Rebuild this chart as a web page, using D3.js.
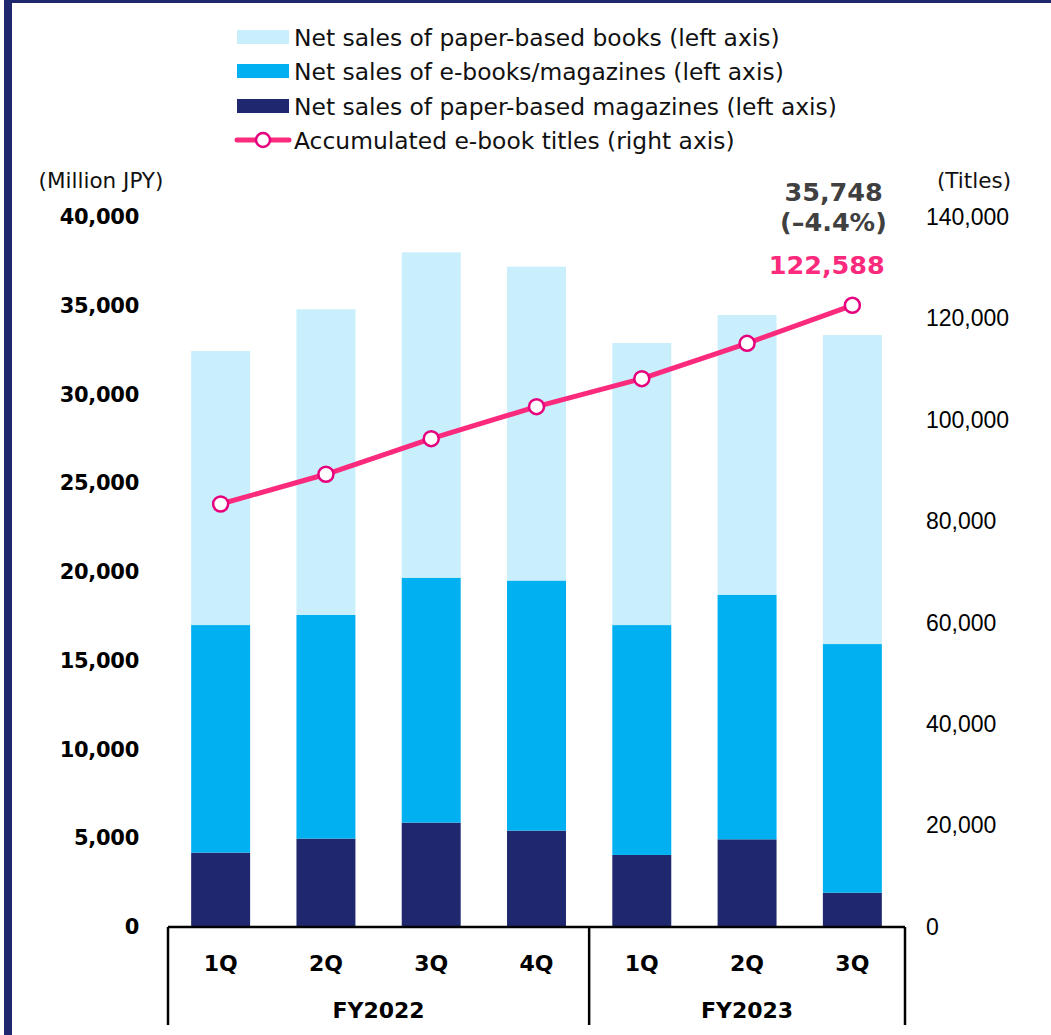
<!DOCTYPE html>
<html>
<head>
<meta charset="utf-8">
<script src="https://cdn.jsdelivr.net/npm/d3@7"></script>
<style>
  html, body { margin: 0; padding: 0; background: #fff; }
  svg { display: block; }
</style>
</head>
<body>
<div id="chart"></div>
<script>
// Quarterly publishing net sales (stacked, left axis) and accumulated e-book titles (line, right axis)
const quarters = ["1Q", "2Q", "3Q", "4Q", "1Q", "2Q", "3Q"];
const fiscalYears = ["FY2022", "FY2022", "FY2022", "FY2022", "FY2023", "FY2023", "FY2023"];
const paperMagazines = [4190, 4980, 5880, 5430, 4060, 4940, 1930];   // Million JPY
const eBooksMagazines = [12820, 12600, 13800, 14090, 12950, 13780, 14010];
const paperBooks = [15440, 17220, 18330, 17680, 15890, 15760, 17410];
const ebookTitles = [83410, 89270, 96290, 102600, 108120, 115090, 122588]; // titles
const leftTicks = [0, 5000, 10000, 15000, 20000, 25000, 30000, 35000, 40000];
const rightTicks = [0, 20000, 40000, 60000, 80000, 100000, 120000, 140000];
const totalLabel = "35,748";
const changeLabel = "(\u20134.4%)";

const seriesNames = [
  "Net sales of paper-based books (left axis)",
  "Net sales of e-books/magazines (left axis)",
  "Net sales of paper-based magazines (left axis)",
  "Accumulated e-book titles (right axis)"
];

const colors = {
  paperBooks: "#c9eefc",
  eBooks: "#00b0f0",
  paperMag: "#1f286e",
  line: "#fb2a7d",
  marker: "#e6007e",
  frame: "#1f286e"
};

const W = 1051, H = 1035;
const svg = d3.select("#chart").append("svg").attr("width", W).attr("height", H);

// page frame (top and left rules)
svg.append("rect").attr("x", 4).attr("y", 0).attr("width", W - 4).attr("height", 3).attr("fill", colors.frame);
svg.append("rect").attr("x", 4).attr("y", 0).attr("width", 8).attr("height", H).attr("fill", colors.frame);

const keys = quarters.map((q, i) => fiscalYears[i] + " " + q);
const plotLeft = 168, plotRight = 905, plotBottom = 927, plotTop = 217;

const x = d3.scaleBand().domain(keys).range([plotLeft, plotRight]).paddingInner(0.44).paddingOuter(0.22);
const yL = d3.scaleLinear().domain([0, 40000]).range([plotBottom, plotTop]);
const yR = d3.scaleLinear().domain([0, 140000]).range([plotBottom, plotTop]);

// stacked bars
const rows = keys.map((k, i) => ({ key: k, paperMag: paperMagazines[i], eBooks: eBooksMagazines[i], paperBooks: paperBooks[i] }));
const stack = d3.stack().keys(["paperMag", "eBooks", "paperBooks"])(rows);

svg.append("g").selectAll("g").data(stack).join("g")
  .attr("fill", d => colors[d.key])
  .selectAll("rect").data(d => d).join("rect")
  .attr("x", d => x(d.data.key))
  .attr("width", x.bandwidth())
  .attr("y", d => yL(d[1]))
  .attr("height", d => yL(d[0]) - yL(d[1]));

// left axis (bold labels, no line)
const axisL = svg.append("g").attr("transform", `translate(139,0)`)
  .call(d3.axisLeft(yL).tickValues(leftTicks).tickSize(0).tickPadding(0).tickFormat(d3.format(",")));
axisL.select(".domain").remove();
axisL.selectAll("text")
  .attr("font-family", "DejaVu Sans").attr("font-weight", "bold").attr("font-size", 21)
  .attr("letter-spacing", -0.3).attr("fill", "#000");

// right axis
const axisR = svg.append("g").attr("transform", `translate(926,0)`)
  .call(d3.axisRight(yR).tickValues(rightTicks).tickSize(0).tickPadding(0).tickFormat(d3.format(",")));
axisR.select(".domain").remove();
axisR.selectAll("text")
  .attr("font-family", "Liberation Sans").attr("font-size", 23).attr("fill", "#000");

// unit captions
svg.append("text").attr("x", 101).attr("y", 188).attr("text-anchor", "middle")
  .attr("font-family", "DejaVu Sans").attr("font-size", 21.5).attr("fill", "#111").text("(Million JPY)");
svg.append("text").attr("x", 974).attr("y", 188).attr("text-anchor", "middle")
  .attr("font-family", "DejaVu Sans").attr("font-size", 21.5).attr("fill", "#111").text("(Titles)");

// category axis frame
const frame = svg.append("g").attr("stroke", "#000").attr("stroke-width", 2.5).attr("fill", "none");
frame.append("line").attr("x1", plotLeft).attr("x2", plotRight).attr("y1", plotBottom).attr("y2", plotBottom);
const yearBounds = [plotLeft, x(keys[4]) - x.step() * x.paddingInner() / 2, plotRight];
yearBounds.forEach(b => frame.append("line").attr("x1", b).attr("x2", b).attr("y1", plotBottom).attr("y2", 1025));

svg.append("g").selectAll("text").data(keys).join("text")
  .attr("x", d => x(d) + x.bandwidth() / 2).attr("y", 971)
  .attr("text-anchor", "middle")
  .attr("font-family", "DejaVu Sans").attr("font-weight", "bold").attr("font-size", 22).attr("fill", "#000")
  .text((d, i) => quarters[i]);

const years = Array.from(new Set(fiscalYears));
svg.append("g").selectAll("text").data(years).join("text")
  .attr("x", (d, i) => (yearBounds[i] + yearBounds[i + 1]) / 2).attr("y", 1018)
  .attr("text-anchor", "middle")
  .attr("font-family", "DejaVu Sans").attr("font-weight", "bold").attr("font-size", 22).attr("fill", "#000")
  .text(d => d);

// accumulated titles line
const pts = keys.map((k, i) => [x(k) + x.bandwidth() / 2, yR(ebookTitles[i])]);
svg.append("path").attr("d", d3.line()(pts))
  .attr("fill", "none").attr("stroke", colors.line).attr("stroke-width", 5).attr("stroke-linejoin", "round");
svg.append("g").selectAll("circle").data(pts).join("circle")
  .attr("cx", d => d[0]).attr("cy", d => d[1]).attr("r", 7.5)
  .attr("fill", "#fff").attr("stroke", colors.marker).attr("stroke-width", 2.5);

// callouts for the latest quarter
const lastKey = keys[keys.length - 1];
const calloutX = x(lastKey) + x.bandwidth() + 1;
svg.append("text").attr("x", calloutX).attr("y", 201).attr("text-anchor", "end")
  .attr("font-family", "DejaVu Sans").attr("font-weight", "bold").attr("font-size", 25.5).attr("fill", "#404040")
  .text(totalLabel);
svg.append("text").attr("x", calloutX + 4).attr("y", 231).attr("text-anchor", "end")
  .attr("font-family", "DejaVu Sans").attr("font-weight", "bold").attr("font-size", 25.5).attr("fill", "#404040")
  .text(changeLabel);
svg.append("text").attr("x", calloutX + 2).attr("y", 274).attr("text-anchor", "end")
  .attr("font-family", "DejaVu Sans").attr("font-weight", "bold").attr("font-size", 25.5).attr("fill", "#fb2a7d")
  .text(d3.format(",")(ebookTitles[ebookTitles.length - 1]));

// legend
const legend = svg.append("g");
const swatchColors = [colors.paperBooks, colors.eBooks, colors.paperMag];
const legendRowY = [37, 71, 106, 140];
seriesNames.forEach((name, i) => {
  const cy = legendRowY[i];
  if (i < 3) {
    legend.append("rect").attr("x", 237).attr("y", cy - 7).attr("width", 52).attr("height", 14).attr("fill", swatchColors[i]);
  } else {
    legend.append("line").attr("x1", 237).attr("x2", 289).attr("y1", cy).attr("y2", cy)
      .attr("stroke", colors.line).attr("stroke-width", 5).attr("stroke-linecap", "round");
    legend.append("circle").attr("cx", 263).attr("cy", cy).attr("r", 7)
      .attr("fill", "#fff").attr("stroke", colors.marker).attr("stroke-width", 2.5);
  }
  legend.append("text").attr("x", 294).attr("y", cy + 9)
    .attr("font-family", "DejaVu Sans").attr("font-size", 23.4).attr("fill", "#111")
    .text(name);
});
</script>
</body>
</html>
